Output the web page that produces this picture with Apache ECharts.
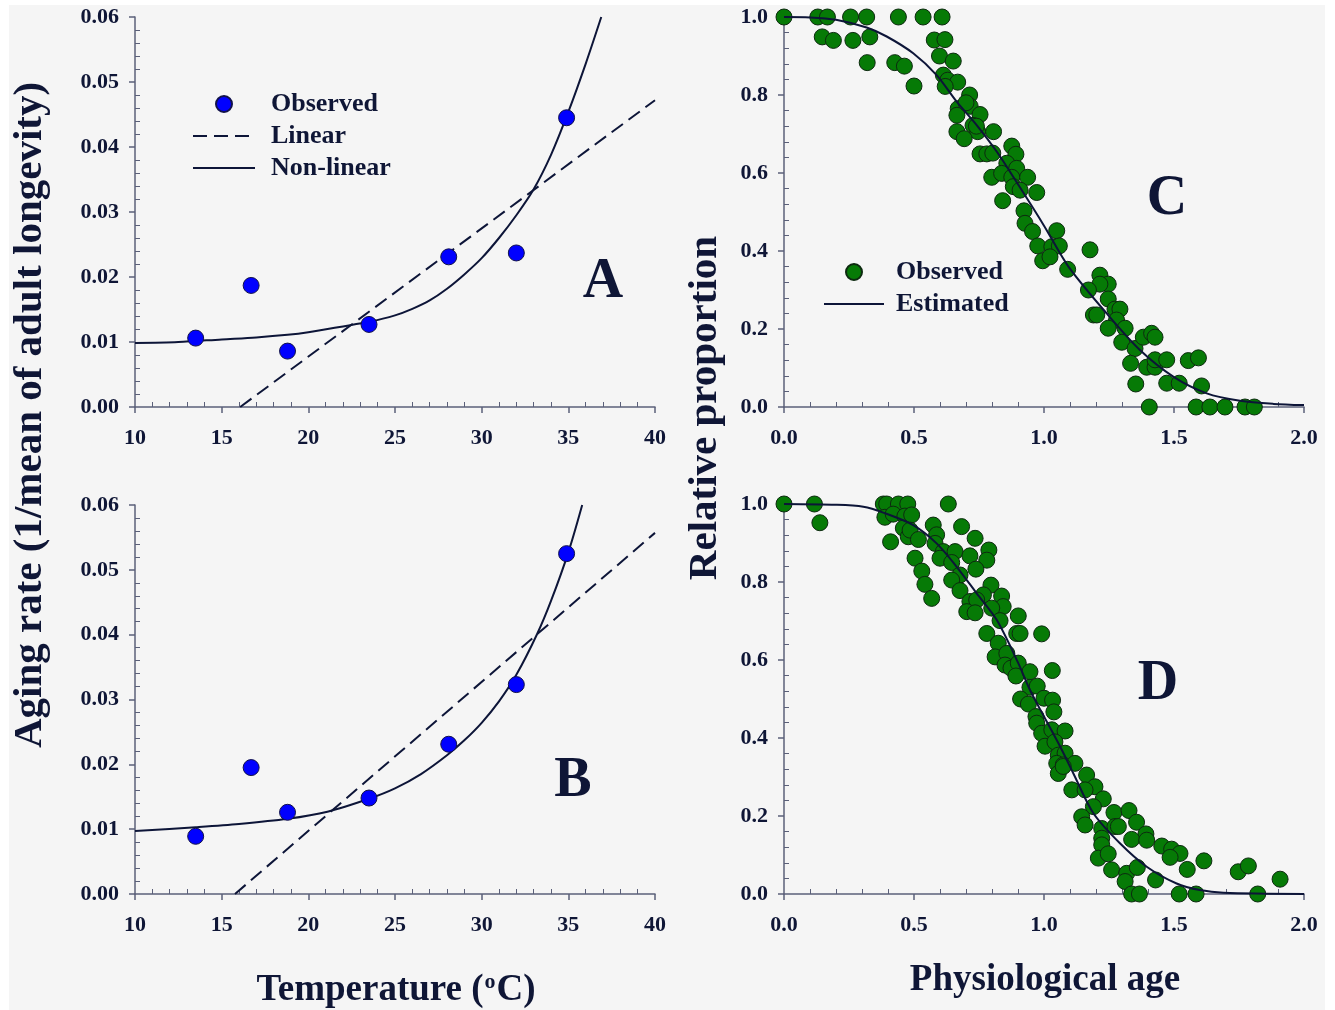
<!DOCTYPE html>
<html>
<head>
<meta charset="utf-8">
<script src="https://cdn.jsdelivr.net/npm/echarts@6/dist/echarts.min.js"></script>
<style>
  html, body { margin: 0; padding: 0; background: #ffffff; }
  #chart { width: 1335px; height: 1010px; }
</style>
</head>
<body>
<div id="chart"></div>
<script>
// ---------------- DATA ----------------
// Panels A & B : temperature vs aging rate
const tempObs = [13.5, 16.7, 18.8, 23.5, 28.1, 32.0, 34.9];
const rateObsA = [0.0106, 0.0187, 0.0086, 0.0127, 0.0231, 0.0237, 0.0445];
const rateObsB = [0.0089, 0.0195, 0.0126, 0.0148, 0.0231, 0.0323, 0.0525];

const linearTempA = [16.07, 40];
const linearRateA = [0.0, 0.0472];
const linearTempB = [15.77, 40];
const linearRateB = [0.0, 0.0557];

const curveTempA = [10, 12.5, 15, 17, 18.8, 20, 22, 23.5, 25, 26, 27, 28, 29, 30, 31, 32, 33, 34, 35, 36, 36.9];
const curveRateA = [0.00985, 0.0100, 0.0104, 0.0107, 0.0111, 0.0115, 0.0124, 0.0131, 0.0141, 0.0151, 0.0164, 0.0182, 0.0204, 0.0229, 0.0260, 0.0295, 0.0335, 0.0388, 0.0454, 0.0528, 0.0600];
const curveTempB = [10, 13.5, 16, 18.8, 21.1, 23.5, 25, 26.5, 28, 29, 30, 31, 32, 33.2, 34, 35, 35.8];
const curveRateB = [0.0097, 0.0103, 0.0108, 0.0116, 0.0127, 0.0147, 0.0163, 0.0185, 0.0214, 0.0237, 0.0264, 0.0297, 0.0338, 0.0401, 0.0452, 0.0527, 0.0600];

// Panel C : physiological age vs relative proportion
const ageC = [0.0, 0.13, 0.167, 0.256, 0.318, 0.44, 0.535, 0.608,
  0.147, 0.19, 0.265, 0.33, 0.32, 0.426, 0.463, 0.5,
  0.578, 0.619, 0.598, 0.651, 0.613, 0.63, 0.668, 0.62,
  0.714, 0.716, 0.67, 0.754, 0.665, 0.727, 0.745, 0.806, 0.665, 0.693, 0.70, 0.74,
  0.754, 0.78, 0.803, 0.876, 0.892, 0.857, 0.895, 0.799, 0.837, 0.876, 0.937,
  0.882, 0.908, 0.972, 0.841, 0.923, 0.927, 0.956, 1.049, 0.976, 1.03, 1.059,
  0.995, 1.023, 1.091, 1.177, 1.215, 1.247, 1.215, 1.171, 1.247, 1.273, 1.292,
  1.19, 1.203, 1.279, 1.247, 1.312, 1.299, 1.35, 1.382, 1.414, 1.427, 1.333,
  1.395, 1.427, 1.427, 1.472, 1.555, 1.594, 1.353, 1.472, 1.52, 1.606,
  1.405, 1.585, 1.638, 1.696, 1.773, 1.809];
const propC = [1, 1, 1, 1, 1, 1, 1, 1,
  0.949, 0.94, 0.94, 0.949, 0.883, 0.883, 0.874, 0.823,
  0.941, 0.942, 0.9, 0.887, 0.851, 0.838, 0.833, 0.822,
  0.8, 0.771, 0.765, 0.75, 0.748, 0.722, 0.706, 0.706, 0.706, 0.688, 0.78, 0.72,
  0.649, 0.649, 0.651, 0.669, 0.648, 0.625, 0.612, 0.589, 0.599, 0.589, 0.589,
  0.565, 0.556, 0.55, 0.529, 0.503, 0.471, 0.45, 0.452, 0.413, 0.411, 0.413,
  0.375, 0.385, 0.353, 0.403, 0.338, 0.315, 0.315, 0.3, 0.277, 0.251, 0.251,
  0.236, 0.236, 0.223, 0.202, 0.202, 0.166, 0.15, 0.179, 0.189, 0.179, 0.112,
  0.102, 0.102, 0.121, 0.121, 0.119, 0.126, 0.059, 0.061, 0.061, 0.054,
  0, 0, 0, 0, 0, 0];
const fitAgeC = [0, 0.1, 0.2, 0.318, 0.395, 0.497, 0.587, 0.664, 0.741, 0.818, 0.9, 1.0, 1.094, 1.241, 1.369, 1.497, 1.626, 1.754, 1.882, 2.0];
const fitPropC = [1, 0.999, 0.993, 0.973, 0.95, 0.907, 0.851, 0.783, 0.723, 0.655, 0.571, 0.465, 0.36, 0.24, 0.146, 0.078, 0.035, 0.016, 0.008, 0.005];

// Panel D
const ageD = [0, 0.117, 0.138, 0.382, 0.395, 0.44, 0.476, 0.632,
  0.388, 0.42, 0.465, 0.491, 0.41, 0.459, 0.478, 0.485, 0.517,
  0.504, 0.53, 0.542, 0.568, 0.574, 0.587, 0.581, 0.613, 0.6, 0.658, 0.645,
  0.683, 0.735, 0.788, 0.715, 0.78, 0.738, 0.677, 0.645, 0.677, 0.796, 0.767,
  0.715, 0.741, 0.703, 0.735, 0.837, 0.843, 0.799, 0.831, 0.78, 0.901, 0.895,
  0.908, 0.991, 0.824, 0.812, 0.857, 0.85, 0.873, 0.901, 0.892, 0.946, 1.032,
  0.946, 0.974, 0.91, 0.94, 1.0, 1.033, 1.038, 0.969, 0.972, 0.991, 1.03,
  1.081, 1.004, 1.042, 1.055, 1.081, 1.049, 1.074, 1.119, 1.164, 1.055, 1.074,
  1.196, 1.107, 1.158, 1.228, 1.19, 1.269, 1.327, 1.145, 1.158, 1.356, 1.222,
  1.273, 1.286, 1.392, 1.337, 1.395, 1.222, 1.222, 1.453, 1.491, 1.523, 1.485,
  1.209, 1.247, 1.551, 1.615, 1.747, 1.786, 1.908, 1.26, 1.318, 1.312, 1.359,
  1.429, 1.337, 1.367, 1.52, 1.585, 1.822];
const propD = [1, 1, 0.952, 1, 1, 1, 1, 1,
  0.966, 0.974, 0.969, 0.972, 0.903, 0.938, 0.916, 0.933, 0.909,
  0.861, 0.828, 0.794, 0.758, 0.946, 0.921, 0.899, 0.878, 0.861, 0.878, 0.85,
  0.942, 0.912, 0.882, 0.867, 0.856, 0.833, 0.818, 0.805, 0.778, 0.792, 0.767,
  0.75, 0.754, 0.724, 0.721, 0.764, 0.737, 0.733, 0.701, 0.668, 0.713, 0.668,
  0.668, 0.667, 0.643, 0.608, 0.617, 0.587, 0.579, 0.592, 0.559, 0.57, 0.573,
  0.53, 0.533, 0.5, 0.487, 0.502, 0.497, 0.467, 0.455, 0.438, 0.412, 0.421,
  0.418, 0.379, 0.39, 0.356, 0.361, 0.335, 0.331, 0.335, 0.305, 0.309, 0.327,
  0.275, 0.267, 0.267, 0.244, 0.224, 0.209, 0.214, 0.198, 0.177, 0.184, 0.168,
  0.173, 0.173, 0.154, 0.14, 0.138, 0.143, 0.126, 0.123, 0.115, 0.104, 0.094,
  0.092, 0.103, 0.063, 0.085, 0.057, 0.072, 0.038, 0.062, 0.053, 0.032, 0.068,
  0.036, 0, 0, 0, 0, 0];
const fitAgeD = [0, 0.2, 0.305, 0.382, 0.497, 0.587, 0.664, 0.741, 0.818, 0.901, 0.946, 1.0, 1.062, 1.113, 1.19, 1.292, 1.395, 1.51, 1.6, 1.69, 2.0];
const fitPropD = [1, 0.998, 0.993, 0.978, 0.946, 0.899, 0.839, 0.771, 0.703, 0.592, 0.523, 0.455, 0.378, 0.309, 0.207, 0.13, 0.07, 0.027, 0.01, 0.003, 0];

// Tick settings
const tempTicks = { min: 10, max: 40, interval: 5 };
const rateTicks = { min: 0, max: 0.06, interval: 0.01 };
const ageTicks = { min: 0, max: 2, interval: 0.5 };
const propTicks = { min: 0, max: 1, interval: 0.2 };

// ---------------- STYLE ----------------
const TXT = '#0f1636';
const AX = '#5b6079';
const LINE = '#0d1538';
const FONT = '"Liberation Serif", "Times New Roman", serif';

function zip(xs, ys) { return xs.map((x, i) => [x, ys[i]]); }

function axis(gridIndex, ticks, decimals, isY) {
  return {
    type: 'value', gridIndex,
    min: ticks.min, max: ticks.max, interval: ticks.interval,
    axisLine: { show: true, onZero: false, lineStyle: { color: AX, width: 1.5 } },
    axisTick: { show: true, length: 6, lineStyle: { color: AX, width: 1.5 } },
    minorTick: { show: true, splitNumber: 5, length: -5, lineStyle: { color: AX, width: 1 } },
    splitLine: { show: false },
    minorSplitLine: { show: false },
    axisLabel: {
      fontFamily: FONT, fontWeight: 'bold', fontSize: 22, color: TXT,
      margin: isY ? 16 : 20,
      formatter: v => v.toFixed(decimals)
    }
  };
}

const grids = [
  { left: 135, top: 17, width: 520, height: 390 },
  { left: 135, top: 505, width: 520, height: 389 },
  { left: 784, top: 17, width: 520, height: 390 },
  { left: 784, top: 504, width: 520, height: 390 }
];

const blueItem = { color: '#0000ff', borderColor: '#12124a', borderWidth: 1, opacity: 1 };
const greenItem = { color: '#067a06', borderColor: '#0d2a10', borderWidth: 1, opacity: 1 };
const lineItem = { color: LINE, opacity: 0 };

const series = [
  // A
  { name: 'Observed', type: 'scatter', xAxisIndex: 0, yAxisIndex: 0, symbolSize: 16,
    itemStyle: blueItem, data: zip(tempObs, rateObsA), z: 5 },
  { name: 'Linear', type: 'line', xAxisIndex: 0, yAxisIndex: 0, symbol: 'none', itemStyle: lineItem,
    lineStyle: { color: LINE, width: 2, type: [14, 7] }, data: zip(linearTempA, linearRateA) },
  { name: 'Non-linear', type: 'line', xAxisIndex: 0, yAxisIndex: 0, symbol: 'none', itemStyle: lineItem,
    smooth: 0.3,
    lineStyle: { color: LINE, width: 2 }, data: zip(curveTempA, curveRateA) },
  // B
  { name: 'Observed', type: 'scatter', xAxisIndex: 1, yAxisIndex: 1, symbolSize: 16,
    itemStyle: blueItem, data: zip(tempObs, rateObsB), z: 5 },
  { name: 'Linear', type: 'line', xAxisIndex: 1, yAxisIndex: 1, symbol: 'none', itemStyle: lineItem,
    lineStyle: { color: LINE, width: 2, type: [14, 7] }, data: zip(linearTempB, linearRateB) },
  { name: 'Non-linear', type: 'line', xAxisIndex: 1, yAxisIndex: 1, symbol: 'none', itemStyle: lineItem,
    smooth: 0.3,
    lineStyle: { color: LINE, width: 2 }, data: zip(curveTempB, curveRateB) },
  // C
  { name: 'ObservedCD', type: 'scatter', xAxisIndex: 2, yAxisIndex: 2, symbolSize: 16,
    itemStyle: greenItem, data: zip(ageC, propC) },
  { name: 'Estimated', type: 'line', xAxisIndex: 2, yAxisIndex: 2, symbol: 'none', itemStyle: lineItem,
    smooth: 0.3,
    lineStyle: { color: LINE, width: 2 }, data: zip(fitAgeC, fitPropC), z: 6 },
  // D
  { name: 'ObservedCD', type: 'scatter', xAxisIndex: 3, yAxisIndex: 3, symbolSize: 16,
    itemStyle: greenItem, data: zip(ageD, propD) },
  { name: 'Estimated', type: 'line', xAxisIndex: 3, yAxisIndex: 3, symbol: 'none', itemStyle: lineItem,
    smooth: 0.3,
    lineStyle: { color: LINE, width: 2 }, data: zip(fitAgeD, fitPropD), z: 6 }
];

const legendText = (pad) => ({ fontFamily: FONT, fontWeight: 'bold', fontSize: 26, color: TXT,
  lineHeight: 26, padding: [0, 0, 0, pad] });

function bigText(x, y, t, size, rot) {
  return { type: 'text', x, y, rotation: rot || 0, z: 10,
    style: { text: t, fontFamily: FONT, fontWeight: 'bold', fontSize: size, fill: TXT,
      align: 'center', verticalAlign: 'middle' } };
}

const option = {
  animation: false,
  backgroundColor: '#ffffff',
  grid: grids,
  xAxis: [axis(0, tempTicks, 0, false), axis(1, tempTicks, 0, false),
          axis(2, ageTicks, 1, false), axis(3, ageTicks, 1, false)],
  yAxis: [axis(0, rateTicks, 2, true), axis(1, rateTicks, 2, true),
          axis(2, propTicks, 1, true), axis(3, propTicks, 1, true)],
  legend: [
    { data: [
        { name: 'Observed', itemStyle: { opacity: 1 } },
        { name: 'Linear', itemStyle: { opacity: 0 } },
        { name: 'Non-linear', itemStyle: { opacity: 0 } }
      ],
      orient: 'vertical', left: 187, top: 86,
      itemWidth: 62, itemHeight: 16, itemGap: 6, selectedMode: false,
      textStyle: legendText(11) },
    { data: [
        { name: 'ObservedCD', itemStyle: { opacity: 1 } },
        { name: 'Estimated', itemStyle: { opacity: 0 } }
      ],
      orient: 'vertical', left: 818, top: 254,
      itemWidth: 60, itemHeight: 16, itemGap: 6, selectedMode: false,
      formatter: n => (n === 'ObservedCD' ? 'Observed' : n),
      textStyle: legendText(7) }
  ],
  graphic: [
    { type: 'rect', z: -100, silent: true, shape: { x: 9, y: 5, width: 1316, height: 1005 },
      style: { fill: '#f5f5f5' } },
    bigText(603, 283, 'A', 56),
    bigText(573, 782, 'B', 56),
    bigText(1167, 200, 'C', 56),
    bigText(1158, 685, 'D', 56),
    bigText(30, 415, 'Aging rate (1/mean of adult longevity)', 41, Math.PI / 2),
    bigText(705, 408, 'Relative proportion', 41, Math.PI / 2),
    bigText(1045, 980, 'Physiological age', 37),
    { type: 'text', x: 396, y: 990, z: 10,
      style: { text: 'Temperature ({s|o}C)', fontFamily: FONT, fontWeight: 'bold', fontSize: 37,
        fill: TXT, align: 'center', verticalAlign: 'middle',
        rich: { s: { fontFamily: FONT, fontWeight: 'bold', fontSize: 22, fill: TXT,
          verticalAlign: 'top', padding: [0, 1, 14, 1] } } } }
  ],
  series
};

const chart = echarts.init(document.getElementById('chart'), null, { renderer: 'canvas' });
chart.setOption(option);
</script>
</body>
</html>
